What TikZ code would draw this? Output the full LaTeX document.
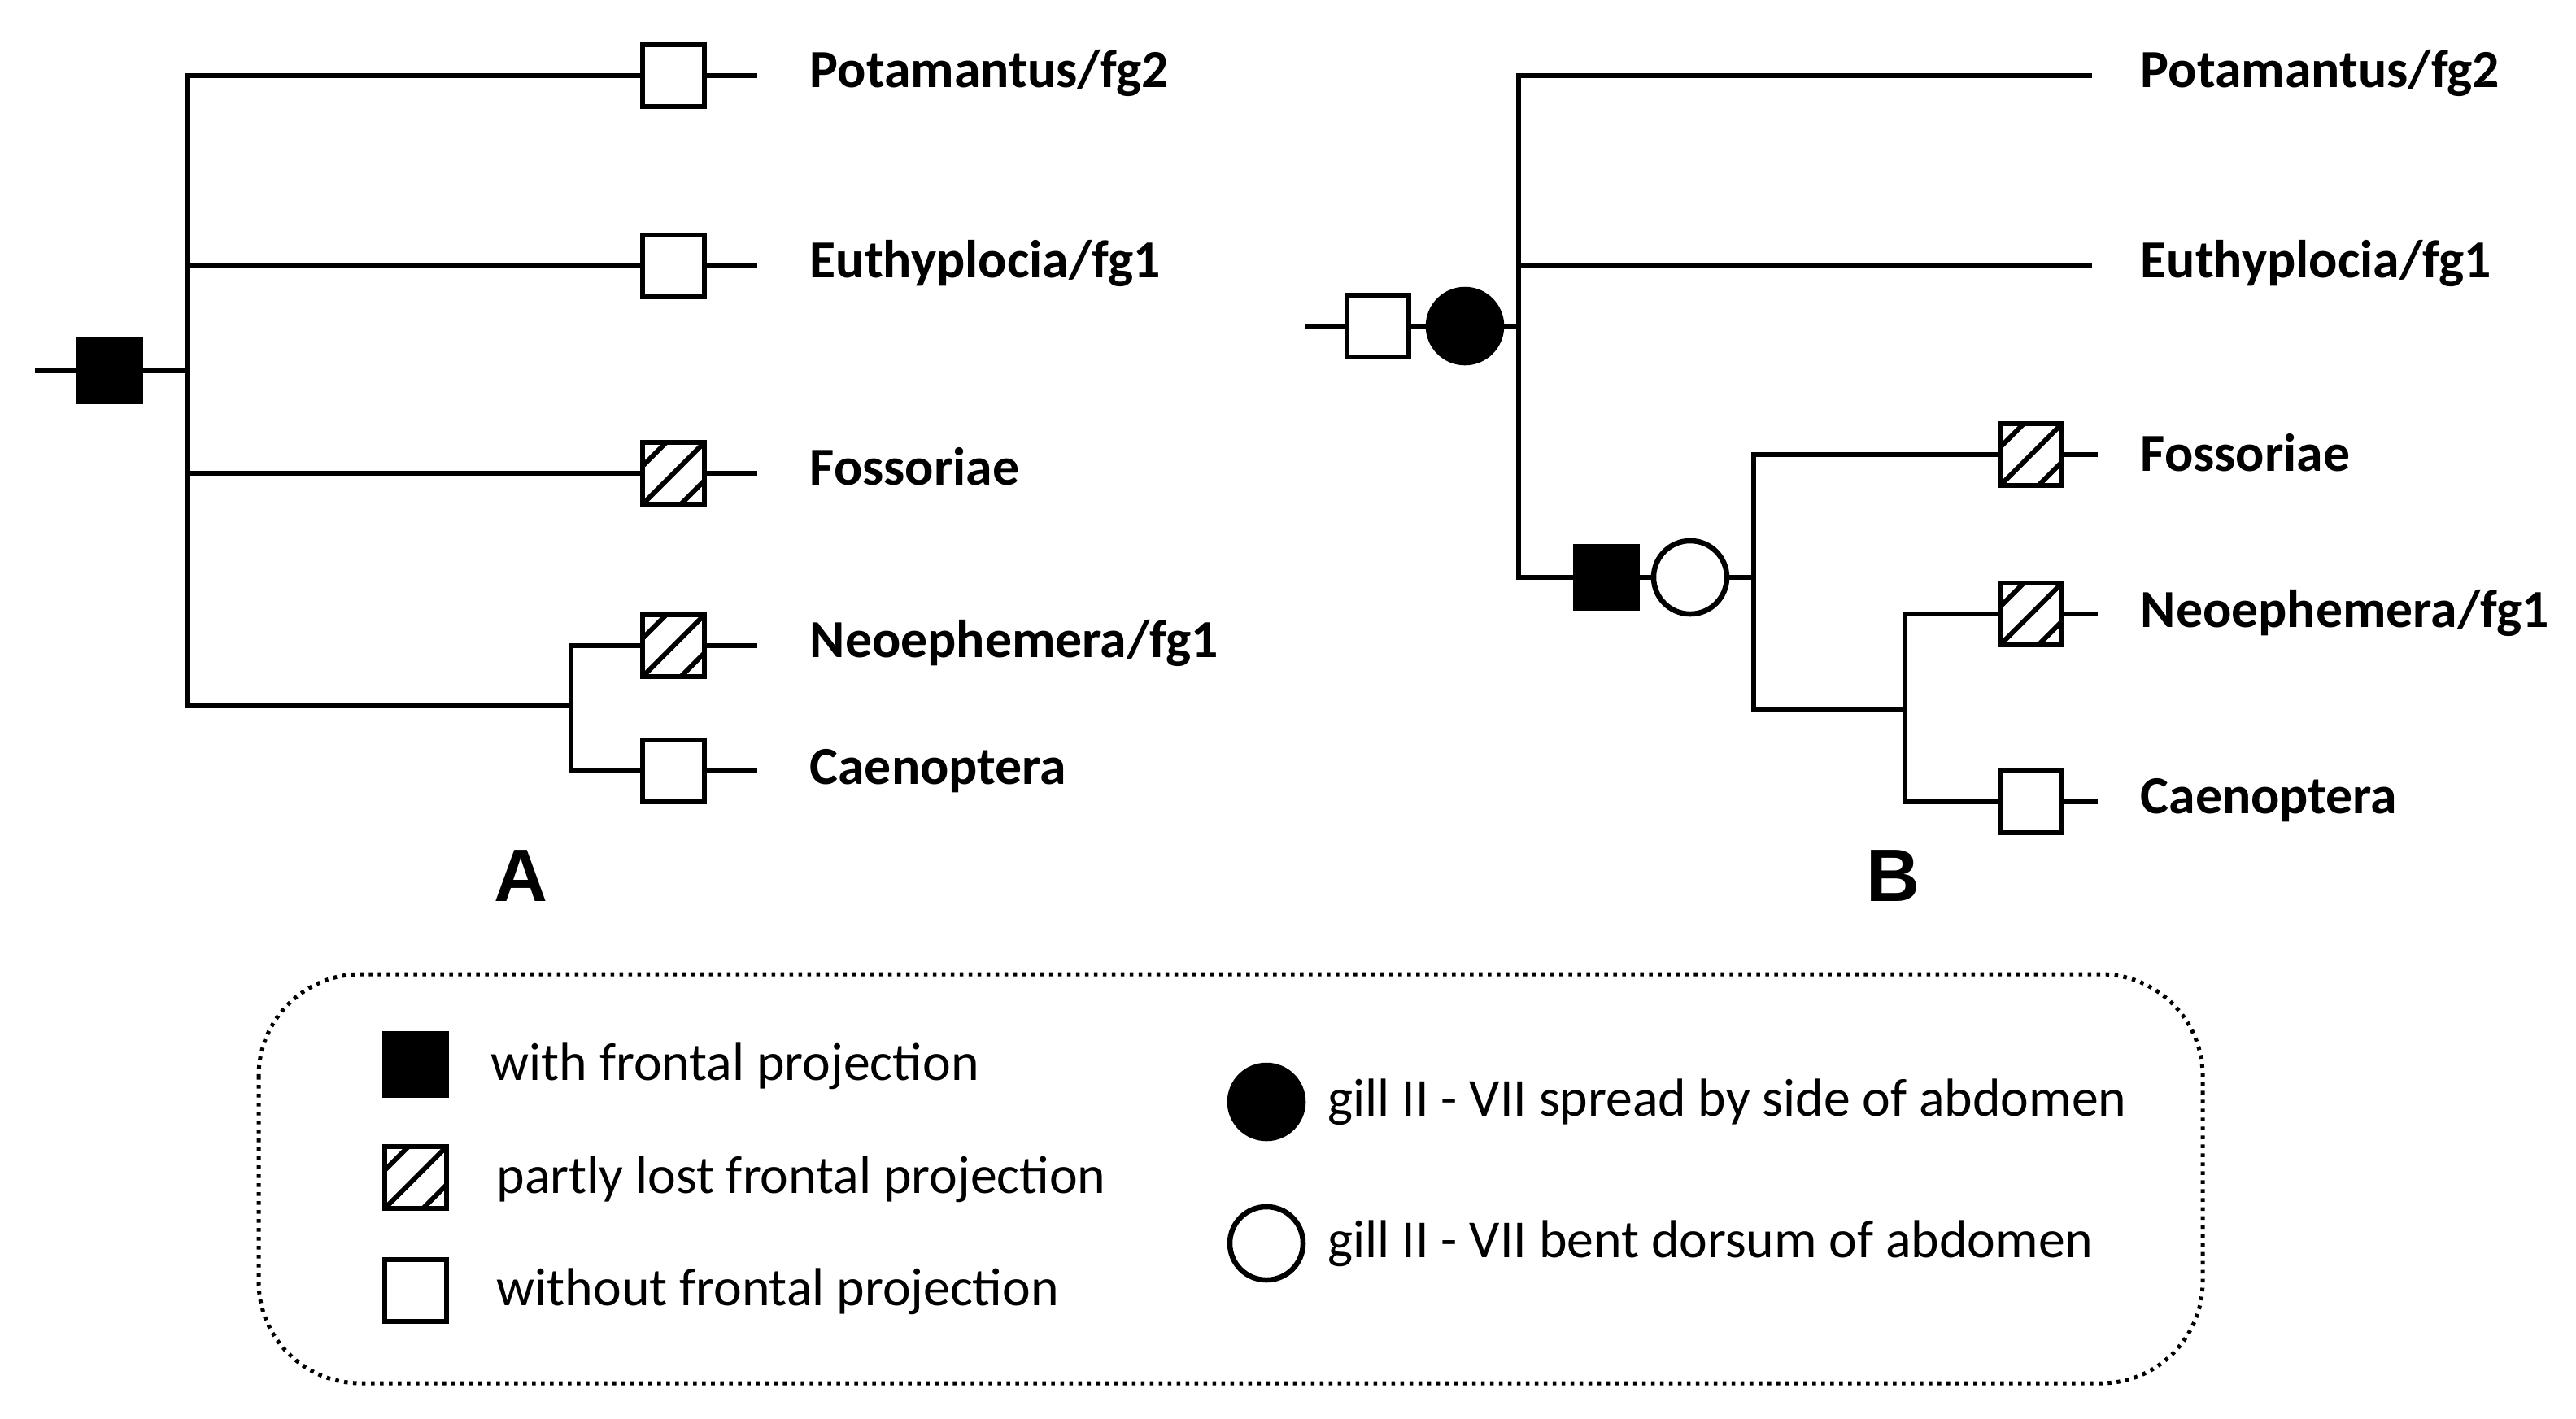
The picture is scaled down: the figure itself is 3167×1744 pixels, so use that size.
\documentclass[tikz,border=0pt]{standalone}
\usepackage{fontspec}
\setmainfont{Carlito}
\newfontfamily\panelfont{Liberation Sans}

\tikzset{
  branch/.style={line width=0.065cm, line cap=rect},
  charbox/.style={draw, line width=0.065cm, rectangle, minimum size=0.76cm, inner sep=0pt},
  withproj/.style={charbox, fill=black},
  noproj/.style={charbox, fill=white},
  partproj/.style={charbox, fill=white, path picture={
      \foreach \k in {-0.47,0,0.47}
        \draw[line width=0.06cm] ([shift={(\k cm,0cm)}]path picture bounding box.center)
          ++(-1cm,-1cm) -- ++(2cm,2cm);}},
  gillbox/.style={draw, line width=0.065cm, circle, minimum size=0.9cm, inner sep=0pt},
  gillspread/.style={gillbox, fill=black},
  gillbent/.style={gillbox, fill=white},
  taxon/.style={anchor=base west, inner sep=0pt, font=\bfseries\fontsize{18.7}{22}\selectfont},
  legtext/.style={anchor=base west, inner sep=0pt, font=\fontsize{18.7}{22}\selectfont},
  panel/.style={inner sep=0pt, font=\panelfont\bfseries\fontsize{26}{30}\selectfont},
}

\begin{document}
\begin{tikzpicture}[x=0.01cm, y=-0.01cm]
  \useasboundingbox (0,0) rectangle (3167,1744);
  %
  % tree A
  \coordinate (a0) at (46,456);
  \node[withproj] (aroot) at (135,456) {};
  \coordinate (atop) at (230,93);
  \coordinate (abot) at (230,868);
  \draw[branch] (a0) -- (aroot) -- (atop |- aroot);
  \draw[branch] (atop) -- (abot);
  %
  \node[noproj]   (apot) at (828,93)  {};
  \node[noproj]   (aeut) at (828,327) {};
  \node[partproj] (afos) at (828,582) {};
  \node[partproj] (aneo) at (828,794) {};
  \node[noproj]   (acae) at (828,948) {};
  \coordinate (anode) at (702,868);
  \draw[branch] (abot) -- (anode);
  \draw[branch] (anode |- aneo) -- (anode |- acae);
  %
  \foreach \leaf in {apot,aeut,afos}
    \draw[branch] (atop |- \leaf) -- (\leaf) -- ++(1.0cm,0);
  \foreach \leaf in {aneo,acae}
    \draw[branch] (anode |- \leaf) -- (\leaf) -- ++(1.0cm,0);
  %
  \node[taxon] (lapot) at (995,107) {Potamantus/fg2};
  \node[taxon] (laeut) at (995,341) {Euthyplocia/fg1};
  \node[taxon] (lafos) at (995,596) {Fossoriae};
  \node[taxon] (laneo) at (995,808) {Neoephemera/fg1};
  \node[taxon] (lacae) at (995,964) {Caenoptera};
  \node[panel] (pa) at (641,1077) {A};
  %
  % tree B
  \coordinate (b0) at (1607,401);
  \node[noproj]     (brootsq) at (1694,401) {};
  \node[gillspread] (brootgl) at (1801,401) {};
  \coordinate (btop) at (1867,93);
  \coordinate (bbot) at (1867,710);
  \draw[branch] (b0) -- (brootsq) -- (brootgl) -- (btop |- brootgl);
  \draw[branch] (btop) -- (bbot);
  %
  \coordinate (bpot) at (2569,93);
  \coordinate (beut) at (2569,327);
  \draw[branch] (btop) -- (bpot);
  \draw[branch] (btop |- beut) -- (beut);
  %
  \node[withproj] (bfossq) at (1975,710) {};
  \node[gillbent] (bfosgl) at (2078,710) {};
  \coordinate (bnode) at (2156,710);
  \draw[branch] (bbot) -- (bfossq) -- (bfosgl) -- (bnode);
  %
  \node[partproj] (bfos) at (2497,559) {};
  \node[partproj] (bneo) at (2497,755) {};
  \node[noproj]   (bcae) at (2497,986) {};
  \coordinate (bnode2) at (2342,872);
  \draw[branch] (bnode |- bfos) -- (bnode |- bnode2) -- (bnode2);
  \draw[branch] (bnode2 |- bneo) -- (bnode2 |- bcae);
  \draw[branch] (bnode |- bfos) -- (bfos) -- ++(0.79cm,0);
  \foreach \leaf in {bneo,bcae}
    \draw[branch] (bnode2 |- \leaf) -- (\leaf) -- ++(0.79cm,0);
  %
  \node[taxon] (lbpot) at (2631,107) {Potamantus/fg2};
  \node[taxon] (lbeut) at (2631,341) {Euthyplocia/fg1};
  \node[taxon] (lbfos) at (2631,579) {Fossoriae};
  \node[taxon] (lbneo) at (2631,771) {Neoephemera/fg1};
  \node[taxon] (lbcae) at (2631,1000) {Caenoptera};
  \node[panel] (pb) at (2327,1077) {B};
  %
  % legend
  \draw[line width=0.05cm, dash pattern=on 0.045cm off 0.065cm, rounded corners=1.25cm]
    (318,1198) rectangle (2708,1701);
  \node[withproj] (kwith) at (511,1309) {};
  \node[partproj] (kpart) at (511,1448) {};
  \node[noproj]   (kwout) at (511,1587) {};
  \node[legtext] (twith) at (603,1328) {with frontal projection};
  \node[legtext] (tpart) at (610,1467) {partly lost frontal projection};
  \node[legtext] (twout) at (610,1605) {without frontal projection};
  %
  \node[gillspread] (kspread) at (1557,1355) {};
  \node[gillbent]   (kbent)   at (1557,1529) {};
  \node[legtext] (tspread) at (1632,1372) {gill II - VII spread by side of abdomen};
  \node[legtext] (tbent)   at (1632,1546) {gill II - VII bent dorsum of abdomen};
  %
\end{tikzpicture}
\end{document}
